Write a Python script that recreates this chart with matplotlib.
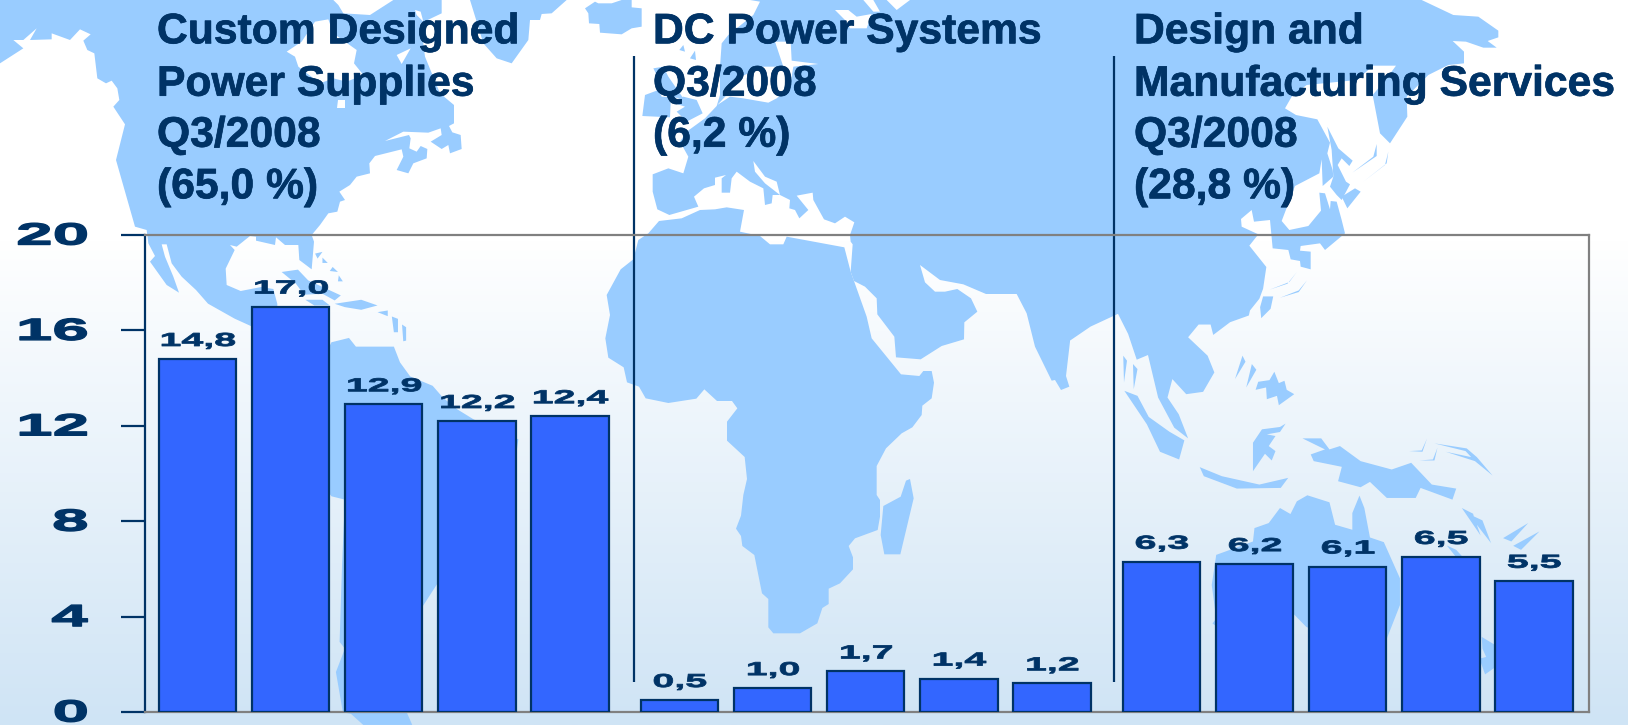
import numpy as np
import matplotlib
matplotlib.use('Agg')
import matplotlib.pyplot as plt
from matplotlib.colors import LinearSegmentedColormap
from matplotlib.patches import Polygon
from matplotlib.patheffects import AbstractPathEffect, withStroke
from matplotlib.transforms import Affine2D

plt.rcParams['font.family'] = ['Liberation Sans', 'DejaVu Sans']

# chart data
groups = ['Custom Designed Power Supplies', 'DC Power Systems', 'Design and Manufacturing Services']
group_values = [[14.8, 17.0, 12.9, 12.2, 12.4],
                [0.5, 1.0, 1.7, 1.4, 1.2],
                [6.3, 6.2, 6.1, 6.5, 5.5]]
y_ticks = [0, 4, 8, 12, 16, 20]
title_lines = [['Custom Designed', 'Power Supplies', 'Q3/2008', '(65,0 %)'],
               ['DC Power Systems', 'Q3/2008', '(6,2 %)'],
               ['Design and', 'Manufacturing Services', 'Q3/2008', '(28,8 %)']]
title_x = [157, 653, 1134]
title_y = [43.3, 95.7, 146.7, 198.3]

NAVY = '#003366'
LAND = '#99CCFF'
BAR = '#3366FF'
GRAY = '#808080'


def seg(ox, oy, sx, sy, points):
    return [(ox + x / sx, oy + y / sy) for x, y in points]


def z5(points):
    return seg(0, 0, 3, 3, points)


def z6(points):
    return seg(520, 0, 3, 3, points)


def z7(points):
    return seg(1040, 0, 3, 3, points)


def z8(points):
    return seg(580, 220, 3, 3, points)


def z9(points):
    return seg(630, 0, 3, 3, points)


def z1(points):
    return seg(0, 200, 2.45, 2.987, points)


def z2(points):
    return seg(1040, 200, 2.667, 2.987, points)


# background map, traced by hand
north_america = z5([(0, 0), (1325, 0), (1325, 40), (1262, 70), (1275, 170), (1320, 280), (1362, 315), (1362, 370),
                    (1347, 378), (1357, 397), (1382, 405), (1385, 447), (1350, 460), (1345, 435), (1325, 447),
                    (1292, 425), (1325, 405), (1322, 385), (1285, 398), (1210, 395), (1155, 423), (1227, 405),
                    (1232, 415), (1228, 445), (1250, 455), (1262, 438), (1282, 447), (1280, 475), (1240, 490),
                    (1225, 520), (1190, 510), (1210, 470), (1205, 448), (1125, 468), (1108, 490), (1110, 520),
                    (1070, 530), (1050, 555), (1018, 575), (1035, 600), (1020, 605), (1012, 635), (985, 640),
                    (960, 675), (935, 705), (942, 725), (935, 808), (898, 780), (895, 735), (855, 735), (828, 712),
                    (825, 735), (768, 722), (768, 710), (750, 708), (710, 740), (690, 735), (704, 750), (677, 806),
                    (680, 855), (722, 873), (784, 861), (820, 867), (832, 912), (830, 985), (759, 981), (704, 956),
                    (624, 911), (588, 870), (545, 830), (515, 790), (500, 733), (485, 733), (495, 770), (520, 830),
                    (537, 878), (500, 855), (450, 785), (465, 768), (445, 730), (440, 690), (405, 680), (348, 480),
                    (375, 373), (340, 320), (358, 300), (352, 265), (335, 242), (318, 250), (292, 235), (283, 160),
                    (262, 150), (250, 122), (272, 103), (240, 88), (210, 120), (155, 100), (155, 118), (90, 120),
                    (110, 85), (70, 120), (40, 120), (70, 145), (0, 190)])
south_america = z1([(812, 425), (855, 412), (872, 438), (965, 438), (980, 485), (1005, 527), (1060, 555), (1085, 590),
                    (1120, 625), (1160, 655), (1270, 715), (1260, 800), (1150, 1000), (1072, 1145), (1035, 1215),
                    (980, 1270), (950, 1400), (1010, 1568), (890, 1568), (860, 1535), (840, 1530), (823, 1410),
                    (845, 1340), (832, 1320), (838, 1090), (845, 895), (812, 885), (700, 700)])
greenland = z5([(1410, 0), (1450, 130), (1490, 175), (1535, 190), (1560, 155), (1585, 120), (1590, 60), (1620, 60),
                (1625, 42), (1655, 40), (1700, 0)])
iceland = z6([(195, 25), (225, 5), (235, 10), (275, 10), (305, 0), (335, 0), (335, 22), (365, 25), (365, 80),
              (335, 85), (305, 103), (240, 98), (238, 72), (207, 70), (205, 40)])
britain = z6([(400, 205), (430, 200), (445, 230), (490, 295), (425, 290), (415, 270), (375, 285), (367, 348),
              (450, 352), (452, 310)])
lowlands = z6([(450, 305), (495, 320), (470, 335), (500, 365), (548, 340), (530, 300), (490, 290)])
eurasia = (z6([(690, 0)]) +
           z7([(1145, 0), (1240, 45), (1315, 50), (1375, 92), (1375, 112), (1343, 123), (1370, 143), (1330, 143),
               (1278, 125), (1238, 123), (1272, 155), (1272, 190), (1225, 195), (1165, 225), (1100, 290), (1102, 350),
               (1050, 430), (1020, 400), (998, 285), (1040, 235), (1068, 197), (1000, 197), (950, 240), (800, 255),
               (755, 290), (735, 325), (768, 345), (832, 358), (870, 428), (862, 460), (878, 510), (880, 530),
               (848, 558), (845, 478), (838, 520), (765, 558), (725, 663), (748, 690), (805, 678), (843, 632),
               (838, 578), (855, 580), (870, 628), (872, 603), (890, 605), (905, 660), (915, 700), (855, 750),
               (840, 730), (782, 738), (780, 752), (812, 755), (812, 808), (782, 800), (780, 783), (752, 778),
               (745, 750), (698, 745), (690, 660), (642, 665), (635, 630), (603, 657), (605, 680), (655, 703),
               (628, 737), (679, 801)]) +
           z2([(595, 265), (585, 295), (560, 330), (557, 345), (507, 365), (462, 403), (455, 372), (423, 372),
               (395, 410), (447, 465), (465, 515), (435, 573), (390, 580), (353, 535), (340, 590), (370, 640),
               (395, 712), (358, 680), (315, 590), (288, 463), (258, 477), (235, 400), (208, 340), (135, 378),
               (80, 420)]) +
           z8([(1470, 365), (1458, 468), (1468, 500), (1443, 510), (1425, 480), (1415, 482), (1365, 380), (1340, 280),
               (1310, 222), (1218, 222), (1150, 193), (1080, 180), (1020, 135), (1035, 187), (1065, 215), (1095, 215),
               (1132, 207), (1173, 235), (1192, 275), (1153, 307), (1152, 358), (1085, 378), (1022, 418), (948, 412),
               (943, 350), (892, 283), (890, 235), (855, 200), (822, 183), (812, 155)]) +
           z6([(998, 733), (992, 725), (990, 705), (1003, 667), (975, 650), (945, 670), (912, 658), (880, 600),
               (878, 578), (830, 587), (865, 630), (838, 655), (825, 630), (808, 625), (810, 600), (780, 585),
               (758, 585), (755, 610), (735, 615), (730, 565), (690, 545), (650, 515), (635, 535), (630, 578),
               (605, 578), (605, 535), (618, 525), (585, 533), (585, 555), (552, 565), (522, 590), (535, 620),
               (448, 645), (412, 628), (398, 575), (398, 523), (445, 505), (490, 520), (505, 470), (480, 425),
               (500, 395), (555, 355), (590, 318), (600, 285), (600, 200), (605, 130), (625, 105), (700, 45),
               (720, 5)]))
africa = z8([(822, 183), (860, 290), (875, 355), (963, 463), (1018, 468), (1030, 453), (1055, 453), (1062, 488),
             (1055, 535), (1027, 557), (1025, 585), (997, 622), (965, 640), (918, 685), (890, 738), (890, 825),
             (900, 840), (900, 890), (893, 930), (825, 955), (806, 978), (819, 1012), (819, 1048), (780, 1090),
             (746, 1106), (746, 1152), (727, 1164), (712, 1210), (660, 1240), (580, 1240), (565, 1222), (565, 1137),
             (546, 1120), (523, 1005), (487, 978), (483, 948), (468, 926), (483, 887), (490, 825), (501, 777),
             (494, 711), (441, 662), (441, 605), (472, 565), (456, 543), (411, 543), (373, 508), (349, 536),
             (265, 549), (197, 535), (177, 500), (141, 487), (131, 442), (85, 413), (76, 355), (90, 285), (80, 225),
             (122, 148), (160, 118), (175, 60), (205, 40), (237, 3), (305, -5), (360, -30), (405, -32), (440, -38),
             (492, -30), (480, 35), (540, 48), (570, 73), (610, 73), (620, 50), (793, 82), (812, 155)])
madagascar = z8([(910, 858), (962, 830), (978, 782), (990, 777), (1001, 835), (961, 1003), (913, 1003), (902, 945)])
australia = z2([(470, 1060), (568, 1020), (572, 980), (610, 965), (640, 920), (668, 938), (685, 900), (713, 882),
                (772, 903), (787, 970), (833, 985), (833, 935), (852, 883), (865, 920), (880, 1008), (917, 1022),
                (960, 1130), (960, 1210), (925, 1310), (800, 1320), (710, 1275), (675, 1235), (650, 1260), (530, 1320),
                (460, 1265), (470, 1250), (458, 1150)])
new_guinea = z2([(700, 712), (750, 712), (772, 745), (800, 735), (855, 780), (938, 805), (990, 785), (1045, 850),
                 (1110, 862), (1100, 895), (1015, 860), (1002, 890), (925, 890), (880, 842), (855, 858), (795, 840),
                 (805, 797), (730, 780), (722, 760), (760, 745)])
islands = [
    # caribbean
    z1([(690, 215), (730, 208), (755, 240), (835, 285), (820, 300), (790, 280), (745, 283), (725, 250)]),
    z1([(748, 298), (790, 298), (808, 315), (770, 315)]),
    z1([(820, 310), (885, 298), (925, 315), (885, 328), (845, 320)]),
    z1([(925, 335), (950, 330), (950, 347)]),
    z1([(960, 348), (975, 355), (975, 395), (965, 395)]),
    z1([(985, 372), (995, 380), (995, 420), (988, 422)]),
    z1([(772, 160), (790, 155), (778, 175)]),
    z1([(790, 172), (803, 188), (790, 188)]),
    z1([(808, 212), (815, 200), (828, 215)]),
    z1([(830, 225), (840, 243), (828, 243)]),
    # north europe specks
    z9([(148, 150), (160, 135), (165, 155)]),
    z9([(180, 175), (195, 152), (198, 180)]),
    # japan and around
    z7([(862, 380), (895, 445), (938, 482), (928, 498), (905, 475), (893, 495), (918, 545), (930, 553), (905, 600),
        (890, 585), (870, 560), (880, 530), (875, 450)]),
    z7([(905, 590), (945, 565), (962, 575), (922, 625)]),
    z7([(937, 518), (1000, 470), (1010, 432), (1010, 468)]),
    z7([(970, 545), (1035, 495), (1045, 455), (1040, 490)]),
    z2([(612, 268), (665, 245), (685, 215), (660, 250)]),
    z2([(640, 292), (690, 275), (712, 240), (690, 270)]),
    z2([(595, 288), (622, 288), (615, 325), (590, 353), (587, 320)]),
    # south east asia
    z2([(222, 465), (232, 480), (224, 545)]),
    z2([(248, 490), (260, 505), (250, 565)]),
    z2([(225, 570), (260, 585), (290, 648), (345, 692), (385, 718), (371, 775), (320, 752), (285, 670)]),
    z2([(540, 465), (548, 483), (520, 535)]),
    z2([(565, 490), (577, 507), (550, 560)]),
    z2([(575, 567), (582, 543), (612, 538), (625, 513), (637, 547), (652, 540), (658, 567), (678, 580), (637, 613),
        (632, 585), (605, 595), (603, 560)]),
    z2([(568, 725), (592, 685), (640, 678), (655, 668), (640, 693), (605, 700), (628, 705), (610, 735), (628, 750),
        (618, 778), (600, 758), (568, 810)]),
    z2([(426, 798), (485, 825), (585, 850), (662, 830), (642, 860), (525, 862), (437, 825)]),
    # pacific
    z2([(985, 750), (1018, 748), (1032, 713), (1020, 752)]),
    z2([(1012, 778), (1048, 775), (1060, 740), (1052, 778)]),
    z2([(1052, 727), (1138, 742), (1165, 768), (1207, 823), (1160, 780), (1082, 752), (1150, 768), (1135, 750)]),
    z2([(1125, 920), (1155, 937), (1157, 945), (1180, 957), (1203, 1025), (1165, 970), (1175, 1002)]),
    z2([(1235, 1010), (1302, 965), (1257, 1020)]),
    z2([(1262, 1033), (1332, 990), (1283, 1045)]),
    z2([(1178, 1305), (1215, 1330), (1215, 1395), (1187, 1417), (1172, 1370), (1190, 1365), (1180, 1340)]),
    z2([(1085, 1032), (1110, 1045), (1128, 1067), (1110, 1067)]),
]
# white water cut out of the land in the top part
waters = [
    z5([(1000, 0), (1015, 15), (1030, 40), (1110, 45), (1180, 0)]),
    z5([(860, 155), (905, 125), (945, 65), (985, 58), (1000, 100), (1070, 150), (1062, 190), (1090, 225), (1040, 245),
        (1000, 235), (960, 250), (895, 200), (885, 170)]),
    z5([(1010, 323), (1035, 323), (1035, 300), (1015, 300)]),
    z5([(1190, 165), (1232, 145), (1205, 192)]),
    z5([(1245, 30), (1262, 35), (1270, 65), (1250, 45)]),
    z9([(435, 125), (482, 125), (485, 182), (565, 192), (490, 200), (480, 260), (440, 295), (415, 308), (340, 295),
        (300, 290), (262, 315), (290, 285), (310, 240), (400, 200), (460, 200)]),
    z6([(945, 30), (985, 30), (1010, 50), (1055, 42), (1040, 85), (990, 85), (975, 60)]),
    z6([(1030, 0), (1060, 35), (1080, 35), (1060, 0)]),
    z6([(1100, 0), (1130, 30), (1170, 0)]),
    z6([(700, 483), (705, 515), (735, 550), (780, 585), (770, 545), (735, 530)]),
]
lands = [north_america, south_america, greenland, iceland, britain, lowlands, eurasia, africa, madagascar, australia,
         new_guinea] + islands


class Stretch(AbstractPathEffect):
    # the labels in the picture are drawn wide and heavy: widen around the anchor, shift down by drop pixels
    def __init__(self, factor, anchor, heavy=0.7, drop=0):
        super().__init__()
        self.factor = factor
        self.anchor = anchor
        self.heavy = heavy
        self.drop = drop

    def draw_path(self, renderer, gc, tpath, affine, rgbFace=None):
        x0 = tpath.get_extents().x1 * self.anchor
        wide = Affine2D().translate(-x0, 0).scale(self.factor, 1).translate(x0, 0)
        moved = wide + affine + Affine2D().translate(0, -self.drop)
        gc0 = renderer.new_gc()
        gc0.copy_properties(gc)
        gc0.set_foreground(rgbFace)
        gc0.set_linewidth(self.heavy)
        renderer.draw_path(gc0, tpath, moved, rgbFace)
        gc0.restore()


fig = plt.figure(figsize=(16.28, 7.25), dpi=100)

bg = fig.add_axes([0, 0, 1, 1])
fade = LinearSegmentedColormap.from_list('fade', ['#FFFFFF', '#CFE4F5'])
bg.imshow(np.linspace(0, 1, 256).reshape(-1, 1), cmap=fade, extent=(0, 1628, 725, 240), aspect='auto', zorder=0)
bg.set_xlim(0, 1628)
bg.set_ylim(725, 0)
bg.axis('off')
for shape in lands:
    bg.add_patch(Polygon(shape, closed=True, facecolor=LAND, edgecolor='none', zorder=1))
for shape in waters:
    bg.add_patch(Polygon(shape, closed=True, facecolor='white', edgecolor='none', zorder=2))

for x in [633.5, 1114]:
    bg.plot([x, x], [56, 682], color=NAVY, lw=1.6, solid_capstyle='butt', zorder=3)

for lines, x in zip(title_lines, title_x):
    for line, y in zip(lines, title_y):
        bg.text(x, y, line, fontsize=30.7, fontweight='bold', color=NAVY, ha='left', va='baseline', zorder=4,
                path_effects=[withStroke(linewidth=0.5, foreground=NAVY)])

# bar chart on top of the map, one slot per bar and a small gap between the groups
ax = fig.add_axes([145 / 1628, 13 / 725, 1444 / 1628, 477 / 725])
ax.patch.set_alpha(0)
slot = 93.1
gap = 16.5 / slot
ax.set_xlim((145 - 197.5) / slot, (1589 - 197.5) / slot)
ax.set_ylim(0, 20)
i = 0
for g, values in enumerate(group_values):
    for v in values:
        x = i + g * gap
        ax.bar(x, v, width=77.5 / slot, color=BAR, edgecolor=NAVY, linewidth=1.6, zorder=3)
        ax.annotate(f'{v:.1f}'.replace('.', ','), (x, v), xytext=(0, 9.4), textcoords='offset points', ha='center',
                    va='baseline', fontsize=13.5, fontweight='bold', color=NAVY, annotation_clip=False,
                    path_effects=[Stretch(2.1, 0.5, heavy=0.6)])
        i += 1

ax.set_xticks([])
ax.set_yticks(y_ticks)
ax.tick_params(axis='y', length=17.3, width=1.6, color=NAVY, pad=24)
for label in ax.get_yticklabels():
    label.set_fontsize(22)
    label.set_fontweight('bold')
    label.set_color(NAVY)
    # bottom aligned so the box of the 0 stays inside the figure, drop puts the digits back on the tick
    label.set_verticalalignment('bottom')
    label.set_path_effects([Stretch(2.15, 1.0, heavy=1.0, drop=16.5)])
for side in ['top', 'right', 'bottom']:
    ax.spines[side].set_color(GRAY)
    ax.spines[side].set_linewidth(1.6)
ax.spines['left'].set_color(NAVY)
ax.spines['left'].set_linewidth(1.6)

fig.savefig('out.png', dpi=100)
